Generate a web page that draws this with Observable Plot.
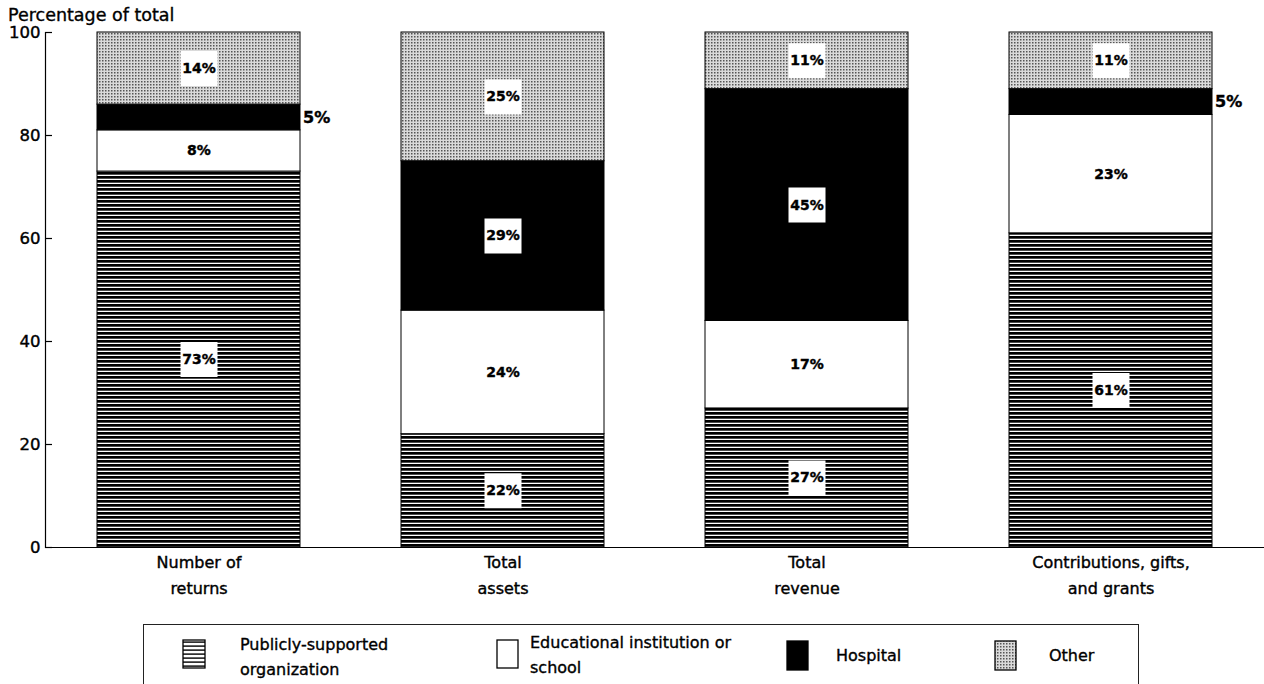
<!DOCTYPE html>
<html>
<head>
<meta charset="utf-8">
<script src="https://cdn.jsdelivr.net/npm/d3@7"></script>
<script src="https://cdn.jsdelivr.net/npm/@observablehq/plot@0.6"></script>
<style>
  html, body { margin: 0; padding: 0; background: #fff; }
  body { position: relative; width: 1264px; height: 684px; overflow: hidden; font-family: "DejaVu Sans", sans-serif; color: #000; }
  #title { position: absolute; left: 8px; top: 3px; font-size: 17.5px; line-height: 24px; white-space: nowrap; -webkit-text-stroke: 0.35px #000; }
  #chart { position: absolute; left: 0; top: 0; }
  #chart svg text { stroke: #000; stroke-width: 0.4px; }
  #legendbox { position: absolute; left: 143px; top: 624px; width: 996px; height: 90px; border: 1.5px solid #222; box-sizing: border-box; }
  .sw { position: absolute; }
  .lt { position: absolute; font-size: 16px; line-height: 25px; white-space: pre; -webkit-text-stroke: 0.35px #000; }
</style>
</head>
<body>
<svg width="0" height="0" style="position:absolute">
  <defs>
    <pattern id="pat-pub" width="8" height="4" patternUnits="userSpaceOnUse">
      <rect width="8" height="4" fill="#000"/>
      <rect y="2.7" width="8" height="1.3" fill="#fff"/>
    </pattern>
    <pattern id="pat-oth" width="3" height="3" patternUnits="userSpaceOnUse">
      <rect width="3" height="3" fill="#dadada"/>
      <rect width="1.5" height="1.5" fill="#555"/>
    </pattern>
    <pattern id="pat-pub-leg" width="8" height="4" patternUnits="userSpaceOnUse">
      <rect width="8" height="4" fill="#fff"/>
      <rect y="2.4" width="8" height="1.4" fill="#000"/>
    </pattern>
  </defs>
</svg>
<div id="title">Percentage of total</div>
<div id="chart"></div>
<div id="legendbox"></div>
<script>
// ---- data ----
const categories = ["Number of returns", "Total assets", "Total revenue", "Contributions, gifts, and grants"];
const categoryLabels = ["Number of\nreturns", "Total\nassets", "Total\nrevenue", "Contributions, gifts,\nand grants"];
const series = ["Publicly-supported organization", "Educational institution or school", "Hospital", "Other"];
const publiclySupported = [73, 22, 27, 61];
const educational = [8, 24, 17, 23];
const hospital = [5, 29, 45, 5];
const other = [14, 25, 11, 11];
const yTicks = [0, 20, 40, 60, 80, 100];
const seriesFills = ["url(#pat-pub)", "#ffffff", "#000000", "url(#pat-oth)"];

const valuesBySeries = [publiclySupported, educational, hospital, other];
const data = [];
categories.forEach((c, i) => {
  series.forEach((s, j) => {
    data.push({category: c, series: s, value: valuesBySeries[j][i]});
  });
});

const isSmall = d => d.value < 6;

// custom rectangular symbol for the white label boxes
const boxSymbol = {
  draw(context) {
    context.moveTo(-18.5, -17.5);
    context.lineTo(18.5, -17.5);
    context.lineTo(18.5, 17.5);
    context.lineTo(-18.5, 17.5);
    context.closePath();
  }
};

const W = 1264, H = 610, ML = 45, MR = 0, MT = 32, MB = 63;
const frameWidth = W - ML - MR;

const chart = Plot.plot({
  width: W,
  height: H,
  marginLeft: ML,
  marginRight: MR,
  marginTop: MT,
  marginBottom: MB,
  style: {fontFamily: "DejaVu Sans, sans-serif", fontSize: "16.5px", color: "#000", background: "transparent"},
  x: {domain: categories, paddingInner: 0.333, paddingOuter: 0.167, axis: null, label: null},
  y: {domain: [0, 100], ticks: yTicks, tickSize: 0, tickPadding: 5, label: null},
  color: {type: "ordinal", domain: series, range: seriesFills},
  marks: [
    Plot.barY(data, {x: "category", y: "value", fill: "series", stroke: "#000", strokeWidth: 1}),
    Plot.dot(data, Plot.stackY({
      x: "category", y: "value", z: "series",
      r: d => isSmall(d) ? 0 : 1,
      symbol: boxSymbol, fill: "#fff", stroke: "none"
    })),
    Plot.text(data, Plot.stackY({
      x: "category", y: "value", z: "series",
      text: d => isSmall(d) ? "" : d.value + "%",
      fontSize: 14, fontWeight: "bold", fill: "#000"
    })),
    Plot.text(data, Plot.stackY({
      x: "category", y: "value", z: "series",
      text: d => isSmall(d) ? d.value + "%" : "",
      textAnchor: "start", dx: 104, fontSize: 16, fontWeight: "bold", fill: "#000"
    })),
    Plot.ruleY(yTicks, {insetRight: frameWidth - 7, stroke: "#000", strokeWidth: 1.2}),
    Plot.ruleY([0], {stroke: "#000", strokeWidth: 1.2}),
    Plot.frame({anchor: "left", stroke: "#000", strokeWidth: 1.2}),
    Plot.text(categories, {
      x: d => d, frameAnchor: "bottom", lineAnchor: "top", dy: 2,
      text: (d, i) => categoryLabels[i], fontSize: 16, lineHeight: 1.62, fill: "#000"
    })
  ]
});
document.getElementById("chart").appendChild(chart);

// ---- legend ----
const legendItems = [
  {label: "Publicly-supported\norganization", fill: "url(#pat-pub-leg)", sx: 183, sy: 640, sw: 22, sh: 28, tx: 240, ty: 632},
  {label: "Educational institution or\nschool", fill: "#ffffff", sx: 497, sy: 640, sw: 21, sh: 28, tx: 530, ty: 630},
  {label: "Hospital", fill: "#000000", sx: 787, sy: 641, sw: 21, sh: 29, tx: 836, ty: 643},
  {label: "Other", fill: "url(#pat-oth)", sx: 995, sy: 641, sw: 21, sh: 29, tx: 1049, ty: 643}
];
legendItems.forEach((it) => {
  const s = d3.select("body").append("svg")
    .attr("class", "sw")
    .attr("width", it.sw + 2).attr("height", it.sh + 2)
    .style("left", (it.sx - 1) + "px").style("top", (it.sy - 1) + "px");
  s.append("rect").attr("x", 1).attr("y", 1).attr("width", it.sw).attr("height", it.sh)
    .attr("fill", it.fill).attr("stroke", "#000").attr("stroke-width", 1.3);
  d3.select("body").append("div").attr("class", "lt")
    .style("left", it.tx + "px").style("top", it.ty + "px").text(it.label);
});
</script>
</body>
</html>
